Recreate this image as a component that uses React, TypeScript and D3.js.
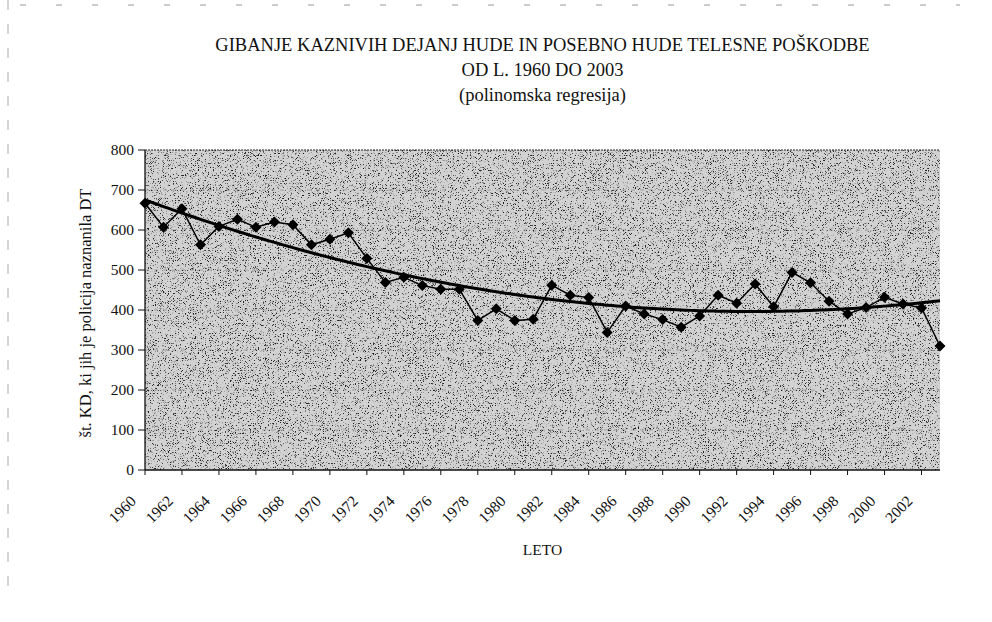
import React from "react";
import * as d3 from "d3";

const years: number[] = [
  1960, 1961, 1962, 1963, 1964, 1965, 1966, 1967, 1968, 1969,
  1970, 1971, 1972, 1973, 1974, 1975, 1976, 1977, 1978, 1979,
  1980, 1981, 1982, 1983, 1984, 1985, 1986, 1987, 1988, 1989,
  1990, 1991, 1992, 1993, 1994, 1995, 1996, 1997, 1998, 1999,
  2000, 2001, 2002, 2003,
];
const values: number[] = [
  667, 607, 653, 563, 609, 627, 607, 620, 613, 563,
  577, 593, 529, 469, 482, 461, 452, 452, 374, 403,
  374, 377, 462, 437, 431, 344, 410, 390, 376, 357,
  385, 437, 417, 465, 408, 494, 468, 422, 390, 406,
  432, 415, 405, 310,
];
const yTicks: number[] = [0, 100, 200, 300, 400, 500, 600, 700, 800];
const xTickLabels: string[] = [
  "1960", "1962", "1964", "1966", "1968", "1970", "1972", "1974", "1976", "1978",
  "1980", "1982", "1984", "1986", "1988", "1990", "1992", "1994", "1996", "1998",
  "2000", "2002",
];
const titleLines: string[] = [
  "GIBANJE KAZNIVIH DEJANJ HUDE IN POSEBNO HUDE TELESNE POŠKODBE",
  "OD L. 1960 DO 2003",
  "(polinomska regresija)",
];
const yTitle = "št. KD, ki jih je policija naznanila DT";
const xTitle = "LETO";
const polyOrder = 2;

// least-squares polynomial fit (the chart's "polinomska regresija" trend line)
function polyFit(xs: number[], ys: number[], order: number): number[] {
  const n = order + 1;
  const A: number[][] = Array.from({ length: n }, () => new Array(n + 1).fill(0));
  for (let k = 0; k < xs.length; k++) {
    for (let r = 0; r < n; r++) {
      for (let c = 0; c < n; c++) A[r][c] += Math.pow(xs[k], r + c);
      A[r][n] += ys[k] * Math.pow(xs[k], r);
    }
  }
  for (let i = 0; i < n; i++) {
    let p = i;
    for (let r = i + 1; r < n; r++) if (Math.abs(A[r][i]) > Math.abs(A[p][i])) p = r;
    [A[i], A[p]] = [A[p], A[i]];
    for (let r = 0; r < n; r++) {
      if (r === i) continue;
      const f = A[r][i] / A[i][i];
      for (let c = i; c <= n; c++) A[r][c] -= f * A[i][c];
    }
  }
  return A.map((row, i) => row[n] / row[i]);
}

export default function App() {
  const W = 992;
  const H = 622;
  const left = 145;
  const right = 940;
  const top = 150;
  const bottom = 470;

  const x = d3.scalePoint<number>().domain(years).range([left, right]);
  const y = d3.scaleLinear().domain([0, 800]).range([bottom, top]);

  const idx = years.map((_, i) => i);
  const coef = polyFit(idx, values, polyOrder);
  const trendY = (t: number) => coef.reduce((s, c, k) => s + c * Math.pow(t, k), 0);
  const tx = d3.scaleLinear().domain([0, years.length - 1]).range([left, right]);
  const trendPts = d3.range(0, years.length - 1 + 0.001, 0.25).map((t) => ({ t, v: trendY(t) }));

  const line = d3
    .line<number>()
    .x((_, i) => x(years[i]) as number)
    .y((d) => y(d));
  const trendLine = d3
    .line<{ t: number; v: number }>()
    .x((d) => tx(d.t))
    .y((d) => y(d.v));

  const cx = (left + right) / 2;
  const font = "'Liberation Serif', 'Times New Roman', serif";

  return (
    <svg width={W} height={H} style={{ display: "block", position: "absolute", left: 0, top: 0, background: "#fff" }}>
      <defs>
        <filter id="speckle" x="0" y="0" width="100%" height="100%" filterUnits="objectBoundingBox">
          <feTurbulence type="fractalNoise" baseFrequency="1.4" numOctaves="1" seed="7" result="t" />
          <feColorMatrix
            in="t"
            type="matrix"
            values="0 0 0 0 0  0 0 0 0 0  0 0 0 0 0  8 0 0 0 -4.6"
          />
        </filter>
      </defs>

      {/* scan edge artefacts */}
      <line x1={20} x2={960} y1={5} y2={5} stroke="#999" strokeDasharray="6 30" strokeWidth={1} />
      <line x1={8} x2={8} y1={0} y2={600} stroke="#aaa" strokeDasharray="10 14" strokeWidth={1} />

      {/* titles */}
      {titleLines.map((t, i) => (
        <text key={i} x={cx} y={51 + i * 25} textAnchor="middle" fontFamily={font} fontSize={18.5} fill="#111">
          {t}
        </text>
      ))}

      {/* plot area */}
      <rect x={left} y={top} width={right - left} height={bottom - top} fill="#d2d2d2" />
      <rect x={left} y={top} width={right - left} height={bottom - top} fill="#000" filter="url(#speckle)" opacity={0.85} />
      {yTicks.filter((v) => v > 0 && v < 800).map((v) => (
        <line key={v} x1={left} x2={right} y1={y(v)} y2={y(v)} stroke="#333" strokeOpacity={0.3} strokeDasharray="4 5" />
      ))}
      <line x1={left} x2={right} y1={top} y2={top} stroke="#222" strokeDasharray="2 1" strokeWidth={1.2} />
      <line x1={left} x2={left} y1={top} y2={bottom} stroke="#111" strokeWidth={1.3} />
      <line x1={left} x2={right} y1={bottom} y2={bottom} stroke="#111" strokeWidth={1.3} />

      {/* y ticks */}
      {yTicks.map((v) => (
        <g key={v}>
          <line x1={left - 7} x2={left} y1={y(v)} y2={y(v)} stroke="#111" />
          <text x={left - 11} y={y(v)} dy="0.35em" textAnchor="end" fontFamily={font} fontSize={15.5} fill="#111">
            {v}
          </text>
        </g>
      ))}

      {/* x ticks and labels */}
      {years.map((yr, i) =>
        i % 2 === 0 ? (
          <line key={yr} x1={x(yr)} x2={x(yr)} y1={bottom} y2={bottom + 5} stroke="#111" />
        ) : null
      )}
      {xTickLabels.map((lab) => {
        const px = x(Number(lab)) as number;
        return (
          <text
            key={lab}
            transform={`translate(${px - 8},${bottom + 32}) rotate(-45)`}
            textAnchor="end"
            fontFamily={font}
            fontSize={15.5}
            fill="#111"
          >
            {lab}
          </text>
        );
      })}

      {/* axis titles */}
      <text x={cx} y={555} textAnchor="middle" fontFamily={font} fontSize={15.5} fill="#111">
        {xTitle}
      </text>
      <text
        transform={`translate(91,${(top + bottom) / 2 + 3}) rotate(-90)`}
        textAnchor="middle"
        fontFamily={font}
        fontSize={16.5}
        fill="#111"
      >
        {yTitle}
      </text>

      {/* data */}
      <path d={line(values) || ""} fill="none" stroke="#000" strokeWidth={1.5} />
      <path d={trendLine(trendPts) || ""} fill="none" stroke="#000" strokeWidth={3} />
      {values.map((v, i) => {
        const px = x(years[i]) as number;
        const py = y(v);
        return (
          <path key={i} d={`M${px},${py - 5.5}L${px + 5.5},${py}L${px},${py + 5.5}L${px - 5.5},${py}Z`} fill="#000" />
        );
      })}
    </svg>
  );
}
